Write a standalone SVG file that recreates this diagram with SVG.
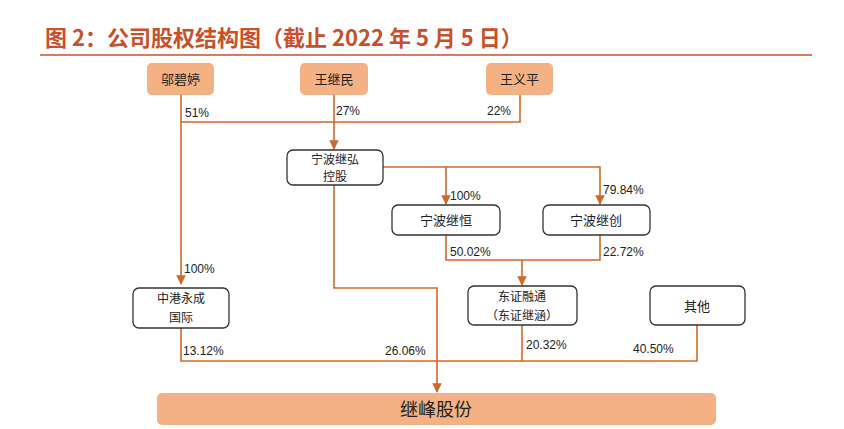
<svg xmlns="http://www.w3.org/2000/svg" width="844" height="429" viewBox="0 0 844 429">
<defs>
<style>
.t{font-family:"Noto Sans CJK SC","Liberation Sans",sans-serif;font-size:13px;fill:#222;text-anchor:middle}
.s{font-size:12px}
.b{font-size:18px}
.p{font-family:"Liberation Sans","Noto Sans CJK SC",sans-serif;font-size:12px;fill:#222}
.o{fill:#f4b183;stroke:none}
.w{fill:#fff;stroke:#333;stroke-width:1.3}
.c{fill:none;stroke:#d0692a;stroke-width:1.6}
</style>
<marker id="a" viewBox="0 0 10 10" refX="9" refY="5" markerWidth="6" markerHeight="6" orient="auto"><path d="M0,0L10,5L0,10z" fill="#d0692a"/></marker>
</defs>
<rect width="844" height="429" fill="#fff"/>
<text x="45" y="46" font-family="'Noto Sans CJK SC',sans-serif" font-size="22" font-weight="bold" fill="#c8502a">图 2：公司股权结构图（截止 2022 年 5 月 5 日）</text>
<line x1="40" y1="55" x2="812" y2="55" stroke="#c8502a" stroke-width="1.5"/>
<g id="connectors">
<path class="c" d="M181,95V284" marker-end="url(#a)"/>
<path class="c" d="M181,122H520V95"/>
<path class="c" d="M334,95V149" marker-end="url(#a)"/>
<path class="c" d="M383,167H600V204" marker-end="url(#a)"/>
<path class="c" d="M446,167V204" marker-end="url(#a)"/>
<path class="c" d="M446,235V260H600V235"/>
<path class="c" d="M522,260V285" marker-end="url(#a)"/>
<path class="c" d="M334,185V288H437V392" marker-end="url(#a)"/>
<path class="c" d="M181,328V361H697V325"/>
<path class="c" d="M522,325V361"/>
</g>
<g id="n1"><rect class="o" x="147" y="63" width="67" height="32" rx="5"/><text class="t" x="180.5" y="84">邬碧婷</text></g>
<g id="n2"><rect class="o" x="300" y="63" width="68" height="32" rx="5"/><text class="t" x="334" y="84">王继民</text></g>
<g id="n3"><rect class="o" x="486" y="63" width="67" height="32" rx="5"/><text class="t" x="519.5" y="84">王义平</text></g>
<g id="n4"><rect class="w" x="287" y="150" width="96" height="35" rx="6"/><text class="t s" x="335" y="164">宁波继弘</text><text class="t s" x="335" y="181">控股</text></g>
<g id="n5"><rect class="w" x="392" y="205" width="108" height="30" rx="6"/><text class="t" x="446" y="225">宁波继恒</text></g>
<g id="n6"><rect class="w" x="543" y="205" width="107" height="30" rx="6"/><text class="t" x="596" y="225">宁波继创</text></g>
<g id="n7"><rect class="w" x="133" y="288" width="96" height="40" rx="6"/><text class="t s" x="181" y="303">中港永成</text><text class="t s" x="181" y="322">国际</text></g>
<g id="n8"><rect class="w" x="468" y="286" width="109" height="39" rx="6"/><text class="t s" x="522" y="301">东证融通</text><text class="t s" x="522" y="320">（东证继涵）</text></g>
<g id="n9"><rect class="w" x="650" y="286" width="95" height="39" rx="6"/><text class="t" x="697" y="311">其他</text></g>
<g id="n10"><rect class="o" x="157" y="393" width="559" height="32" rx="5"/><text class="t b" x="436" y="416">继峰股份</text></g>
<g id="labels">
<text class="p" x="185" y="117">51%</text>
<text class="p" x="336" y="115">27%</text>
<text class="p" x="487" y="115">22%</text>
<text class="p" x="450" y="200">100%</text>
<text class="p" x="603" y="194">79.84%</text>
<text class="p" x="450" y="256">50.02%</text>
<text class="p" x="603" y="256">22.72%</text>
<text class="p" x="184" y="273">100%</text>
<text class="p" x="183" y="355">13.12%</text>
<text class="p" x="385" y="355">26.06%</text>
<text class="p" x="526" y="349">20.32%</text>
<text class="p" x="633" y="353">40.50%</text>
</g>
</svg>
